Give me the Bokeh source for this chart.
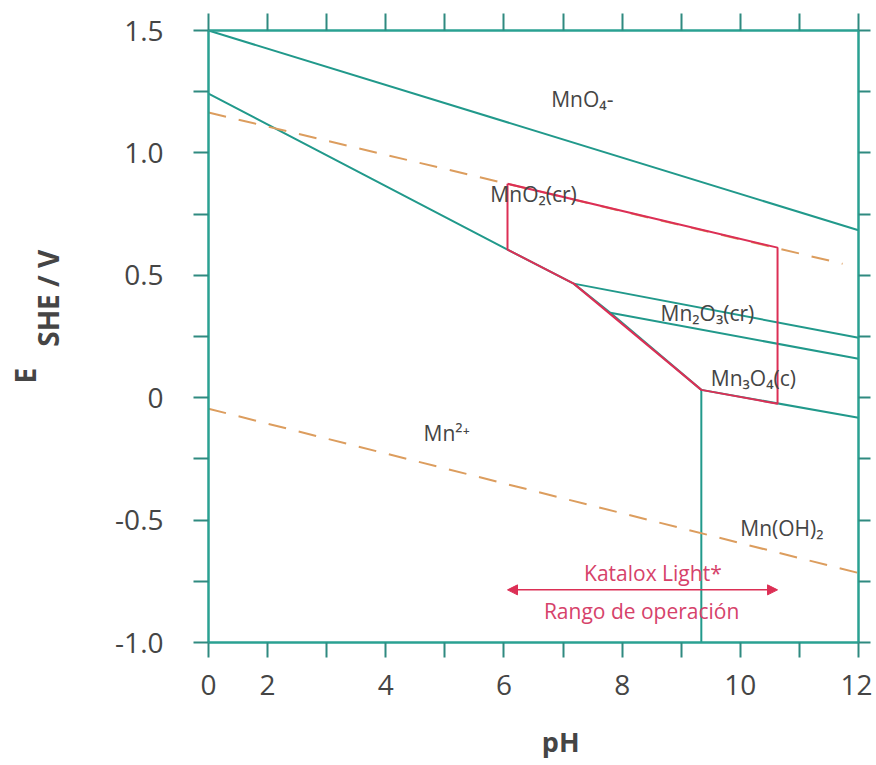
from bokeh.plotting import figure
from bokeh.models import (LinearAxis, FixedTicker, Label, Arrow, NormalHead,
                          Range1d, ColumnDataSource)
from bokeh.core.properties import value
from bokeh.embed import file_html
from bokeh.resources import INLINE

# ---------------- data ----------------
# pH axis: ticks are evenly spaced; the first tick is labelled "0"
ph_major = [1, 2, 4, 6, 8, 10, 12]
ph_major_labels = ["0", "2", "4", "6", "8", "10", "12"]
ph_minor = [3, 5, 7, 9, 11]
e_major = [-1.0, -0.5, 0.0, 0.5, 1.0, 1.5]
e_major_labels = ["-1.0", "-0.5", "0", "0.5", "1.0", "1.5"]
e_minor = [-0.75, -0.25, 0.25, 0.75, 1.25]

# stability boundaries (pH, E_SHE)
mno4_mno2_ph = [1.0, 12.0]
mno4_mno2_e = [1.5, 0.684]
mno2_mn2_ph = [1.0, 6.06, 7.18]
mno2_mn2_e = [1.242, 0.605, 0.466]
mno2_mn2o3_ph = [7.18, 12.0]
mno2_mn2o3_e = [0.466, 0.245]
mn2o3_mn3o4_ph = [7.80, 12.0]
mn2o3_mn3o4_e = [0.347, 0.159]
mn2o3_mn2_ph = [7.18, 7.80, 9.34]
mn2o3_mn2_e = [0.466, 0.347, 0.032]
mn3o4_mnoh2_ph = [9.34, 12.0]
mn3o4_mnoh2_e = [0.032, -0.082]
mn2_mnoh2_ph = [9.34, 9.34]
mn2_mnoh2_e = [0.032, -1.0]

# water stability lines
water_upper_ph = [1.0, 11.73]
water_upper_e = [1.165, 0.547]
water_lower_ph = [1.0, 12.0]
water_lower_e = [-0.045, -0.716]

# Katalox Light operating window
op_ph = [6.06, 10.63, 10.63, 9.34, 7.18, 6.06, 6.06]
op_e = [0.874, 0.613, -0.025, 0.032, 0.466, 0.605, 0.874]
op_range_ph = [6.06, 10.63]
op_range_e = -0.785

# species labels
species_text = ["MnO\u2084-", "MnO\u2082(cr)", "Mn\u2082O\u2083(cr)", "Mn\u2083O\u2084(c)",
                "Mn\u00b2\u207a", "Mn(OH)\u2082"]
species_ph = [6.80, 5.77, 8.65, 9.50, 4.64, 10.0]
species_e = [1.222, 0.834, 0.347, 0.081, -0.143, -0.532]

# ---------------- styling ----------------
TEAL = "#21998b"
AXIS = "#2aa192"
TICK = "#2f8a80"
ORANGE = "#dc9d5e"
RED = "#dc2f55"
RED_TXT = "#d6426a"
GREY = "#454545"
FONT = "Open Sans"

p = figure(width=872, height=762, x_range=Range1d(1, 12), y_range=Range1d(-1.0, 1.5),
           output_backend="svg", toolbar_location=None,
           min_border_left=208, min_border_right=14, min_border_top=30, min_border_bottom=120)
p.outline_line_color = None
p.xgrid.visible = False
p.ygrid.visible = False
p.background_fill_color = "white"
p.border_fill_color = "white"


def style_axis(ax, ticker, tick_out):
    ax.ticker = ticker
    ax.axis_line_color = AXIS
    ax.axis_line_width = 2.5
    ax.major_tick_line_color = TICK
    ax.major_tick_line_width = 2
    ax.major_tick_in = 0
    ax.major_tick_out = tick_out
    ax.minor_tick_line_color = TICK
    ax.minor_tick_line_width = 2
    ax.minor_tick_in = 0
    ax.minor_tick_out = tick_out
    ax.major_label_text_font = FONT
    ax.major_label_text_color = GREY
    ax.major_label_text_font_size = "28px"


xa = p.xaxis[0]
style_axis(xa, FixedTicker(ticks=ph_major, minor_ticks=ph_minor), 15)
xa.major_label_overrides = {t: s for t, s in zip(ph_major, ph_major_labels)}
xa.major_label_standoff = 17

ya = p.yaxis[0]
style_axis(ya, FixedTicker(ticks=e_major, minor_ticks=e_minor), 15)
ya.major_label_overrides = {t: s for t, s in zip(e_major, e_major_labels)}
ya.major_label_standoff = 30

top = LinearAxis()
style_axis(top, FixedTicker(ticks=[], minor_ticks=ph_major + ph_minor), 17)
top.major_label_standoff = 0
p.add_layout(top, "above")

right = LinearAxis()
style_axis(right, FixedTicker(ticks=[], minor_ticks=e_major + e_minor), 12)
right.major_label_standoff = 0
p.add_layout(right, "right")

# axis titles (placed in the side panels so they are not clipped)
p.add_layout(Label(x=6.96, y=-1.405, text="pH", text_align="center",
                   text_baseline="middle", text_font=FONT, text_font_style="bold",
                   text_font_size="27px", text_color=GREY), "below")
p.add_layout(Label(x=-1.71, y=0.406, text="SHE / V", angle=1.5708, text_align="center",
                   text_baseline="alphabetic", text_font=FONT, text_font_style="bold",
                   text_font_size="28px", text_color=GREY), "left")
p.add_layout(Label(x=-2.10, y=0.090, text="E", angle=1.5708, text_align="center",
                   text_baseline="alphabetic", text_font=FONT, text_font_style="bold",
                   text_font_size="28px", text_color=GREY), "left")

# boundaries
for xs, ys in [(mno4_mno2_ph, mno4_mno2_e), (mno2_mn2_ph, mno2_mn2_e),
               (mno2_mn2o3_ph, mno2_mn2o3_e), (mn2o3_mn3o4_ph, mn2o3_mn3o4_e),
               (mn2o3_mn2_ph, mn2o3_mn2_e), (mn3o4_mnoh2_ph, mn3o4_mnoh2_e),
               (mn2_mnoh2_ph, mn2_mnoh2_e)]:
    p.line(xs, ys, line_color=TEAL, line_width=2)

for xs, ys in [(water_upper_ph, water_upper_e), (water_lower_ph, water_lower_e)]:
    p.line(xs, ys, line_color=ORANGE, line_width=2, line_dash="18 13")

p.line(op_ph, op_e, line_color=RED, line_width=2)

src = ColumnDataSource(dict(x=species_ph, y=species_e, t=species_text))
p.text(x="x", y="y", text="t", source=src, text_font=value(FONT), text_font_size="21px",
       text_color=GREY, text_baseline="middle", text_align="left")

# operating range arrow and text
p.add_layout(Arrow(start=NormalHead(size=10, fill_color=RED, line_color=RED),
                   end=NormalHead(size=10, fill_color=RED, line_color=RED),
                   x_start=op_range_ph[0], y_start=op_range_e,
                   x_end=op_range_ph[1], y_end=op_range_e,
                   line_color=RED, line_width=1.5))
p.text(x=[8.52], y=[-0.716], text=["Katalox Light*"], text_font=value(FONT),
       text_font_size="21px", text_color=RED_TXT, text_align="center", text_baseline="middle")
p.text(x=[8.33], y=[-0.871], text=["Rango de operación"], text_font=value(FONT),
       text_font_size="21px", text_color=RED_TXT, text_align="center", text_baseline="middle")

open("out.html", "w").write(file_html(p, INLINE))
